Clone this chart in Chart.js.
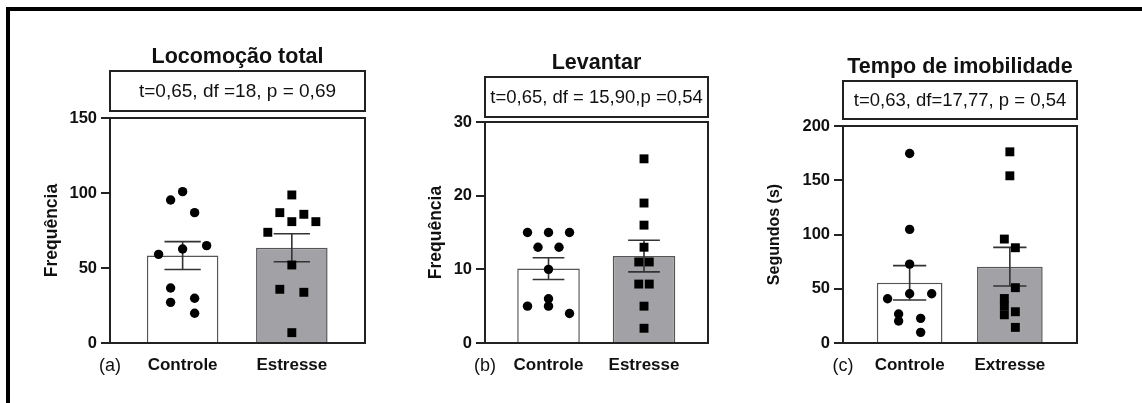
<!DOCTYPE html>
<html lang="pt">
<head>
    <meta charset="UTF-8">
    <title>Locomoção, levantar e imobilidade</title>
    <style>
        body {
            margin: 0;
            background: #fff;
            width: 1142px;
            height: 403px;
            overflow: hidden;
            position: relative;
        }

        /* moldura preta (só topo e esquerda aparecem no recorte) */
        .moldura {
            position: absolute;
            left: 6px;
            top: 7px;
            width: 1200px;
            height: 500px;
            border-top: 4px solid #000;
            border-left: 4px solid #000;
        }

        .painel {
            position: absolute;
            top: 0;
            height: 403px;
        }

        canvas { display: block; }
    </style>
    <script src="https://cdn.jsdelivr.net/npm/chart.js"></script>
</head>
<body>
    <div class="moldura"></div>
    <div class="painel" style="left:0px"><canvas id="grafico-a" width="380" height="403"></canvas></div>
    <div class="painel" style="left:380px"><canvas id="grafico-b" width="380" height="403"></canvas></div>
    <div class="painel" style="left:760px"><canvas id="grafico-c" width="382" height="403"></canvas></div>

    <script>
        // Grupos
        const gruposAB = ['Controle', 'Estresse'];
        const gruposC = ['Controle', 'Extresse'];

        // (a) Locomoção total - frequência
        const locControle = [100.9, 95.3, 86.9, 64.9, 62.7, 59.1, 36.7, 29.8, 27.1, 19.8];
        const locEstresse = [98.7, 86.9, 85.8, 80.9, 80.9, 73.8, 52.0, 35.8, 33.8, 6.9];
        const locMedia = [58.3, 63.5];
        const locEpm = [9.3, 9.3];
        const locColControle = [0, -1, 1, 2, 0, -2, -1, 1, -1, 1]; // coluna do "jitter"
        const locColEstresse = [0, -1, 1, 0, 2, -2, 0, -1, 1, 0];

        // (b) Levantar - frequência
        const levControle = [15, 15, 15, 13, 13, 10, 6, 5, 5, 4];
        const levEstresse = [25, 19, 16, 13, 11, 11, 8, 8, 5, 2];
        const levMedia = [10.1, 11.8];
        const levEpm = [1.47, 2.15];
        const levColControle = [-2, 0, 2, -1, 1, 0, 0, -2, 0, 2];
        const levColEstresse = [0, 0, 0, 0, -0.5, 0.5, -0.5, 0.5, 0, 0];

        // (c) Tempo de imobilidade - segundos
        const imoControle = [174.7, 104.7, 72.7, 45.4, 40.8, 45.4, 26.7, 20.3, 22.7, 9.8];
        const imoExtresse = [176.2, 154.1, 95.8, 87.8, 51.0, 41.0, 34.0, 26.0, 28.8, 14.4];
        const imoMedia = [55.5, 70.3];
        const imoEpm = [15.8, 17.8];
        const imoColControle = [0, 0, 0, 0, -2, 2, -1, -1, 1, 1];
        const imoColExtresse = [0, 0, -0.5, 0.5, 0.5, -0.5, -0.5, -0.5, 0.5, 0.5];

        const PASSO = 0.11; // largura de uma coluna de pontos (unidades do eixo x)
        const FONTE = "'Liberation Sans', Arial, sans-serif";

        Chart.defaults.font.family = FONTE;
        Chart.defaults.color = '#111';

        // barras de erro (média ± EPM), desenhadas logo após as barras
        const barrasErro = {
            id: 'barrasErro',
            afterDatasetDraw(chart, args, opts) {
                if (args.meta.type !== 'bar') return;
                const { ctx, scales: { x, y } } = chart;
                ctx.save();
                ctx.strokeStyle = '#333';
                ctx.lineWidth = 1.6;
                opts.medias.forEach((m, i) => {
                    const cx = x.getPixelForValue(i + 1);
                    const meia = x.getPixelForValue(i + 1 + 0.166) - cx;
                    const yAlto = y.getPixelForValue(m + opts.epms[i]);
                    const yBaixo = y.getPixelForValue(m - opts.epms[i]);
                    ctx.beginPath();
                    ctx.moveTo(cx, yAlto); ctx.lineTo(cx, yBaixo);
                    ctx.moveTo(cx - meia, yAlto); ctx.lineTo(cx + meia, yAlto);
                    ctx.moveTo(cx - meia, yBaixo); ctx.lineTo(cx + meia, yBaixo);
                    ctx.stroke();
                });
                ctx.restore();
            }
        };

        // caixa do gráfico, caixa da estatística, título e letra do painel
        const decoracao = {
            id: 'decoracao',
            afterDraw(chart, args, opts) {
                const { ctx, chartArea: a } = chart;
                const meio = (a.left + a.right) / 2;
                ctx.save();
                ctx.strokeStyle = '#222';
                ctx.lineWidth = 2;
                ctx.strokeRect(a.left, a.top, a.right - a.left, a.bottom - a.top);

                const topoCaixa = a.top - opts.folga - opts.alturaCaixa;
                ctx.strokeRect(a.left, topoCaixa, a.right - a.left, opts.alturaCaixa);

                ctx.fillStyle = '#111';
                ctx.textAlign = 'center';
                ctx.textBaseline = 'middle';
                ctx.font = opts.tamEstat + 'px ' + FONTE;
                ctx.fillText(opts.estat, meio, topoCaixa + opts.alturaCaixa / 2 + 1);

                ctx.font = 'bold 21.5px ' + FONTE;
                ctx.fillText(opts.titulo, meio, topoCaixa - 14);

                ctx.font = '18px ' + FONTE;
                ctx.fillText(opts.letra, a.left, a.bottom + 23);
                ctx.restore();
            }
        };

        function criarPainel(id, p) {
            const pontos = (vals, cols, grupo) => vals.map((v, i) => ({ x: grupo + cols[i] * PASSO, y: v }));

            return new Chart(document.getElementById(id), {
                type: 'bar',
                data: {
                    datasets: [
                        {
                            type: 'bar',
                            data: p.medias.map((m, i) => ({ x: i + 1, y: m })),
                            backgroundColor: ['#ffffff', '#a2a2a6'],
                            borderColor: ['#555', '#555'],
                            borderWidth: 1.5,
                            categoryPercentage: 1,
                            barPercentage: 0.655,
                            order: 2
                        },
                        {
                            type: 'scatter',
                            data: pontos(p.controle, p.colControle, 1),
                            pointStyle: 'circle',
                            pointRadius: 4.7,
                            backgroundColor: '#000',
                            borderWidth: 0,
                            order: 1
                        },
                        {
                            type: 'scatter',
                            data: pontos(p.tratado, p.colTratado, 2),
                            pointStyle: 'rect',
                            pointRadius: 6.3,
                            backgroundColor: '#000',
                            borderWidth: 0,
                            order: 1
                        }
                    ]
                },
                options: {
                    responsive: false,
                    animation: false,
                    layout: { padding: { left: 0, right: p.padDir, top: p.padTopo, bottom: 0 } },
                    scales: {
                        x: {
                            type: 'linear',
                            min: 0.335,
                            max: 2.67,
                            offset: false,
                            afterBuildTicks: (s) => { s.ticks = p.grupos.map((g, i) => ({ value: i + 1 })); },
                            afterFit: (s) => { s.height = p.altX; },
                            ticks: {
                                autoSkip: false,
                                maxRotation: 0,
                                padding: 12,
                                font: { size: 17, weight: 'bold' },
                                callback: (v) => p.grupos[v - 1]
                            },
                            grid: { display: false, drawTicks: false },
                            border: { display: false }
                        },
                        y: {
                            min: 0,
                            max: p.yMax,
                            afterFit: (s) => { s.width = p.largY; },
                            ticks: {
                                stepSize: p.yPasso,
                                padding: 4,
                                font: { size: 16.5, weight: 'bold' }
                            },
                            grid: { drawOnChartArea: false, drawTicks: true, tickLength: 9, color: '#222', lineWidth: 2 },
                            border: { display: false },
                            title: {
                                display: true,
                                text: p.yTitulo,
                                padding: { top: p.padTituloY, bottom: 0 },
                                font: { size: p.tamTituloY, weight: 'bold' }
                            }
                        }
                    },
                    plugins: {
                        legend: { display: false },
                        tooltip: { enabled: false },
                        barrasErro: { medias: p.medias, epms: p.epms },
                        decoracao: {
                            titulo: p.titulo,
                            estat: p.estat,
                            tamEstat: p.tamEstat,
                            letra: p.letra,
                            alturaCaixa: p.alturaCaixa,
                            folga: p.folga
                        }
                    }
                },
                plugins: [barrasErro, decoracao]
            });
        }

        criarPainel('grafico-a', {
            grupos: gruposAB, controle: locControle, tratado: locEstresse,
            colControle: locColControle, colTratado: locColEstresse,
            medias: locMedia, epms: locEpm, yMax: 150, yPasso: 50,
            yTitulo: 'Frequência', titulo: 'Locomoção total',
            estat: 't=0,65, df =18, p = 0,69', tamEstat: 19, letra: '(a)',
            largY: 110, padDir: 15, padTopo: 118, altX: 60, padTituloY: 42, tamTituloY: 17.5,
            alturaCaixa: 40, folga: 7
        });

        criarPainel('grafico-b', {
            grupos: gruposAB, controle: levControle, tratado: levEstresse,
            colControle: levColControle, colTratado: levColEstresse,
            medias: levMedia, epms: levEpm, yMax: 30, yPasso: 10,
            yTitulo: 'Frequência', titulo: 'Levantar',
            estat: 't=0,65, df = 15,90,p =0,54', tamEstat: 18.5, letra: '(b)',
            largY: 105, padDir: 52, padTopo: 122, altX: 60, padTituloY: 46, tamTituloY: 17.5,
            alturaCaixa: 40, folga: 5
        });

        criarPainel('grafico-c', {
            grupos: gruposC, controle: imoControle, tratado: imoExtresse,
            colControle: imoColControle, colTratado: imoColExtresse,
            medias: imoMedia, epms: imoEpm, yMax: 200, yPasso: 50,
            yTitulo: 'Segundos (s)', titulo: 'Tempo de imobilidade',
            estat: 't=0,63, df=17,77, p = 0,54', tamEstat: 18.5, letra: '(c)',
            largY: 83, padDir: 65, padTopo: 126, altX: 60, padTituloY: 5, tamTituloY: 16,
            alturaCaixa: 38, folga: 7
        });
    </script>
</body>
</html>
